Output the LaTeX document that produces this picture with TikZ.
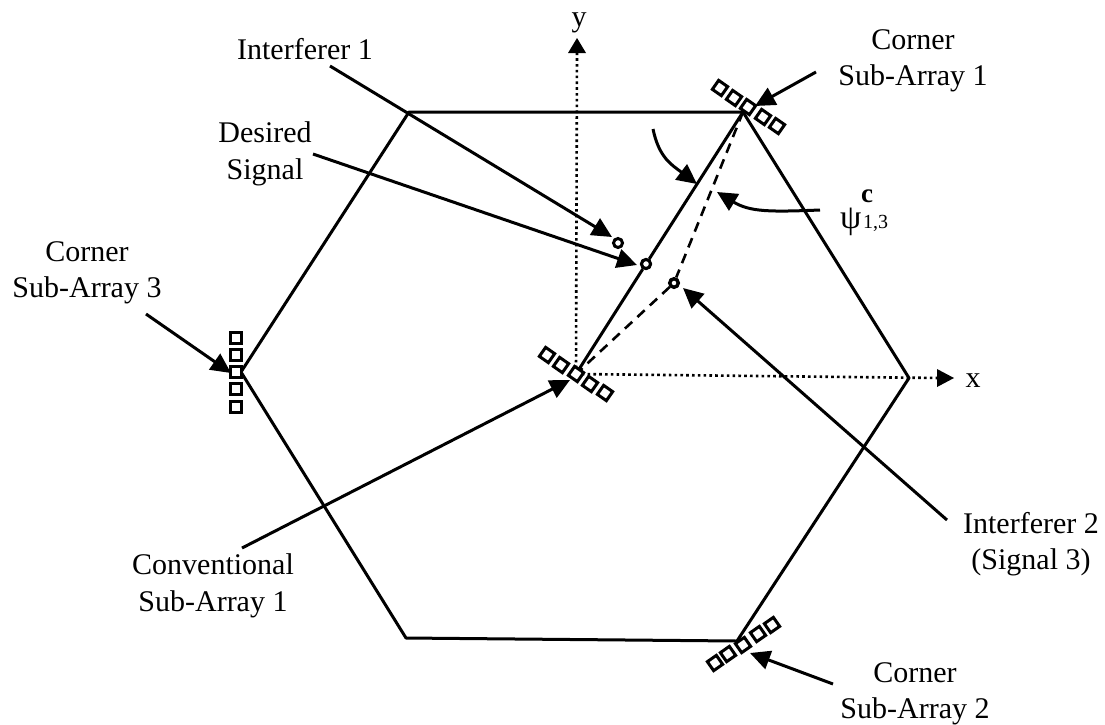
\documentclass[tikz,border=0pt]{standalone}
\usepackage{fontspec}
\setmainfont{Liberation Serif}
\usetikzlibrary{arrows.meta}
\tikzset{
 x=1pt,y=-1pt,
 hexside/.style={line width=3pt,draw=black,line join=round},
 pointer/.style={line width=3pt,draw=black,-{Triangle[length=20pt,width=19pt]}},
 axisline/.style={line width=2.6pt,draw=black,dash pattern=on 2.6pt off 3.2pt},
 dashline/.style={line width=2.6pt,draw=black,dash pattern=on 10pt off 7pt},
 elem/.style={draw=black,line width=3pt,fill=white,minimum size=11pt,inner sep=0pt,outer sep=0pt,shape=rectangle},
 sig/.style={draw=black,line width=3pt,fill=white,circle,minimum size=9pt,inner sep=0pt},
 lab/.style={align=center,font=\fontsize{30}{36.5}\selectfont,inner sep=0pt},
 sym/.style={anchor=base west,inner sep=0pt},
}
\begin{document}
\begin{tikzpicture}
\useasboundingbox (0,0) rectangle (1105,724);
\fill[white] (0,0) rectangle (1105,724);
% hexagon vertices
\coordinate (v1) at (409,112);
\coordinate (v2) at (743,112);
\coordinate (v3) at (909,378);
\coordinate (v4) at (737,641);
\coordinate (v5) at (406,638);
\coordinate (v6) at (241,372);
% axes
\coordinate (org) at (576,374);
\coordinate (ytop) at (577,50);
\coordinate (xend) at (940,378);
\draw[axisline] (org) -- (ytop);
\draw[axisline] (org) -- (xend);
\fill (577,38) -- (568,53) -- (586,53) -- cycle;
\fill (954,378) -- (937,369) -- (937,387) -- cycle;
% hexagon
\draw[hexside] (v1) -- (v2) -- (v3) -- (v4) -- (v5) -- (v6) -- cycle;
% signal lines
\node[sig] (s1) at (618,243) {};
\node[sig] (s2) at (646,264) {};
\node[sig] (s3) at (674,283) {};
\draw[hexside] (org) -- (s2) -- (v2);
\draw[dashline] (v2) -- (s3) -- (org);
\node[sig] at (s2) {};
\node[sig,minimum size=8pt] at (s3) {};
% element arrays
\foreach \p/\q in {720/88,734/98,748/107,763/117,777/126,547/355,561/365,576/374,590/384,605/393}
  \node[elem,rotate=-35] at (\p,\q) {};
\foreach \p/\q in {715/663,728/654,743/645,758/634,772/625}
  \node[elem,rotate=35] at (\p,\q) {};
\foreach \q in {338,355,372,389,407}
  \node[elem] at (236,\q) {};
% labels
\node[lab] (tI1) at (305,49) {Interferer 1};
\node[lab] (tDS) at (265,154) {Desired\\Signal};
\node[lab] (tC1) at (913,61) {Corner\\Sub-Array 1};
\node[lab] (tC3) at (87,273) {Corner\\Sub-Array 3};
\node[lab] (tCV) at (213,586) {Conventional\\Sub-Array 1};
\node[lab] (tI2) at (1031,544) {Interferer 2\\(Signal 3)};
\node[lab] (tC2) at (915,694) {Corner\\Sub-Array 2};
\node[lab,anchor=base] (ty) at (579,26) {y};
\node[lab,anchor=base] (tx) at (973,387) {x};
\node[sym,font=\fontsize{34}{34}\selectfont] (tpsi) at (840,228) {ψ};
\node[sym,font=\fontsize{27}{27}\selectfont\bfseries] (tc) at (861,202) {c};
\node[sym,font=\fontsize{20}{20}\selectfont] (tsub) at (863,228) {1,3};
% pointers
\coordinate (p1) at (330,66);
\coordinate (p2) at (313,154);
\coordinate (p3) at (816,72);
\coordinate (p4) at (146,314);
\coordinate (p5) at (242,548);
\coordinate (p6) at (947,520);
\coordinate (p7) at (833,684);
\draw[pointer] (p1) -- (612,237);
\draw[pointer] (p2) -- (637,265);
\draw[pointer] (p3) -- (755,106);
\draw[pointer] (p4) -- (231,373);
\draw[pointer] (p5) -- (570,380);
\draw[pointer] (p6) -- (683,288);
\draw[pointer] (p7) -- (750,653);
\coordinate (c1) at (653,129);
\coordinate (c2) at (820,210);
\draw[pointer] (c1) .. controls (659,158) and (672,165) .. (697,184);
\draw[pointer] (c2) .. controls (770,212) and (750,212) .. (717,192);
\end{tikzpicture}
\end{document}
